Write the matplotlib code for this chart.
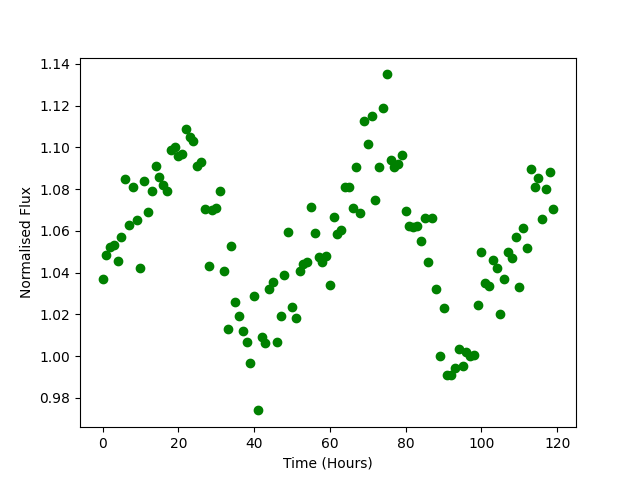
import numpy as np
import matplotlib
matplotlib.use('Agg')
from matplotlib import pyplot as plt

hours = np.arange(0, 120)
flux = [1.037, 1.0485, 1.0523, 1.0533, 1.0456, 1.057, 1.085, 1.063, 1.081, 1.065,
	1.042, 1.084, 1.069, 1.079, 1.091, 1.086, 1.082, 1.079, 1.099, 1.100,
	1.096, 1.097, 1.109, 1.105, 1.103, 1.091, 1.093, 1.0705, 1.043, 1.070,
	1.071, 1.079, 1.041, 1.013, 1.053, 1.026, 1.019, 1.012, 1.007, 0.9965,
	1.029, 0.974, 1.009, 1.0065, 1.032, 1.0355, 1.007, 1.019, 1.039, 1.0595,
	1.0235, 1.0185, 1.041, 1.044, 1.045, 1.0715, 1.059, 1.0475, 1.045, 1.048,
	1.034, 1.0665, 1.0585, 1.0605, 1.081, 1.081, 1.071, 1.0905, 1.0685, 1.1127,
	1.1017, 1.115, 1.075, 1.0905, 1.119, 1.135, 1.094, 1.0905, 1.092, 1.0965,
	1.0695, 1.0625, 1.062, 1.0625, 1.055, 1.066, 1.045, 1.066, 1.032, 1.000,
	1.023, 0.991, 0.991, 0.9945, 1.0035, 0.9955, 1.002, 1.000, 1.0005, 1.0245,
	1.050, 1.035, 1.0335, 1.046, 1.042, 1.020, 1.037, 1.050, 1.047, 1.057,
	1.033, 1.0615, 1.052, 1.0895, 1.081, 1.0855, 1.0655, 1.080, 1.088, 1.0705]

plt.figure(figsize=(6.4, 4.8), dpi=100)
plt.plot(hours, flux, 'go')
plt.xlabel('Time (Hours)')
plt.ylabel('Normalised Flux')
plt.savefig('out.png')
